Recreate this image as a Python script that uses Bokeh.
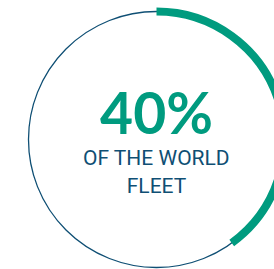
import math
from bokeh.plotting import figure
from bokeh.models import Range1d
from bokeh.core.properties import value
from bokeh.embed import file_html
from bokeh.resources import INLINE

# data
share_pct = [40]
headline = ["40%"]
caption_lines = ["OF THE WORLD", "FLEET"]

TEAL = "#009b7f"
NAVY = "#0f4f74"

p = figure(width=274, height=269, output_backend="svg", toolbar_location=None,
           x_range=Range1d(-156, 118), y_range=Range1d(-130, 139),
           min_border=0)
p.axis.visible = False
p.grid.visible = False
p.outline_line_color = None
p.background_fill_color = "white"
p.border_fill_color = "white"

R = 128
# thin full circle
p.arc(x=[0], y=[0], radius=R, start_angle=0, end_angle=2 * math.pi,
      line_color=NAVY, line_width=1.3)

# thick arc for share, from top going clockwise
frac = share_pct[0] / 100.0
p.arc(x=[0], y=[0], radius=R, start_angle=math.pi / 2 - frac * 2 * math.pi,
      end_angle=math.pi / 2, direction="anticlock",
      line_color=TEAL, line_width=8, line_cap="butt")

p.text(x=[0], y=[28], text=headline, text_align="center", text_baseline="alphabetic",
       text_color=TEAL, text_font=value("Lato"), text_font_style="bold",
       text_font_size="57px")

p.text(x=[0, 0], y=[-18, -46], text=caption_lines, text_align="center",
       text_baseline="alphabetic", text_color=NAVY,
       text_font=value("Roboto"), text_font_size="21px")

open("out.html", "w").write(file_html(p, INLINE))
